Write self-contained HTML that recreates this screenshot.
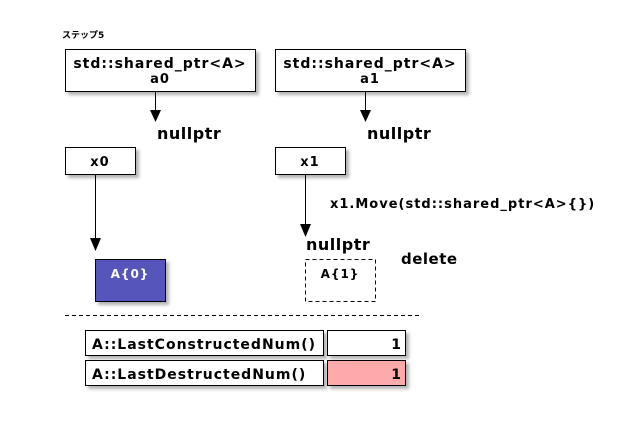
<!DOCTYPE html>
<html><head><meta charset="utf-8"><style>
body{margin:0;background:#fff}
svg text{font-family:"DejaVu Sans","Noto Sans CJK JP",sans-serif;font-weight:bold;fill:#000;letter-spacing:1px}
</style></head><body>
<svg width="630" height="420" viewBox="0 0 630 420" xmlns="http://www.w3.org/2000/svg">
<defs><filter id="s" x="-10%" y="-10%" width="130%" height="140%"><feDropShadow dx="3" dy="3" stdDeviation="1.5" flood-color="#000" flood-opacity="0.3"/></filter></defs>
<text x="62" y="38" font-size="9" style="letter-spacing:0">ステップ5</text>
<g fill="#fff" stroke="#000" stroke-width="1" filter="url(#s)">
<rect x="65.5" y="49.5" width="190" height="42"/>
<rect x="275.5" y="49.5" width="190" height="42"/>
<rect x="65.5" y="147.5" width="70" height="27"/>
<rect x="275.5" y="147.5" width="70" height="27"/>
<rect x="95.5" y="259.5" width="70" height="42" fill="#5555bb"/>
<rect x="85.5" y="330.5" width="238" height="25"/>
<rect x="327.5" y="330.5" width="78" height="25"/>
<rect x="85.5" y="360.5" width="238" height="25"/>
<rect x="327.5" y="360.5" width="78" height="25" fill="#ffaaaa"/>
</g>
<rect x="305.5" y="259.5" width="70" height="42" fill="none" stroke="#000" stroke-dasharray="4,3"/>
<text x="160" y="68" font-size="14" text-anchor="middle">std::shared_ptr&lt;A&gt;</text>
<text x="160" y="83" font-size="13" text-anchor="middle">a0</text>
<text x="370" y="68" font-size="14" text-anchor="middle">std::shared_ptr&lt;A&gt;</text>
<text x="370" y="83" font-size="13" text-anchor="middle">a1</text>
<g stroke="#000">
<line x1="155.5" y1="92" x2="155.5" y2="112"/>
<line x1="365.5" y1="92" x2="365.5" y2="112"/>
<line x1="95.5" y1="175" x2="95.5" y2="240"/>
<line x1="305.5" y1="175" x2="305.5" y2="226"/>
<line x1="65" y1="315.5" x2="420" y2="315.5" stroke-dasharray="4,3"/>
</g>
<g fill="#000">
<polygon points="150,110 161,110 155.5,122"/>
<polygon points="360,110 371,110 365.5,122"/>
<polygon points="90,238 101,238 95.5,251"/>
<polygon points="300,224 311,224 305.5,237"/>
</g>
<text x="157" y="139" font-size="16" style="letter-spacing:0.5px">nullptr</text>
<text x="367" y="139" font-size="16" style="letter-spacing:0.5px">nullptr</text>
<text x="100" y="166" font-size="13" text-anchor="middle">x0</text>
<text x="310" y="166" font-size="13" text-anchor="middle">x1</text>
<text x="330" y="208" font-size="13">x1.Move(std::shared_ptr&lt;A&gt;{})</text>
<text x="306" y="250" font-size="16" style="letter-spacing:0.5px">nullptr</text>
<text x="401" y="264" font-size="15" style="letter-spacing:0.5px">delete</text>
<text x="130" y="278" font-size="12" text-anchor="middle" style="fill:#fff">A{0}</text>
<text x="340" y="278" font-size="12" text-anchor="middle">A{1}</text>
<text x="92" y="349" font-size="14">A::LastConstructedNum()</text>
<text x="402" y="349" font-size="14" text-anchor="end">1</text>
<text x="92" y="379" font-size="14">A::LastDestructedNum()</text>
<text x="402" y="379" font-size="14" text-anchor="end">1</text>
</svg>
</body></html>
